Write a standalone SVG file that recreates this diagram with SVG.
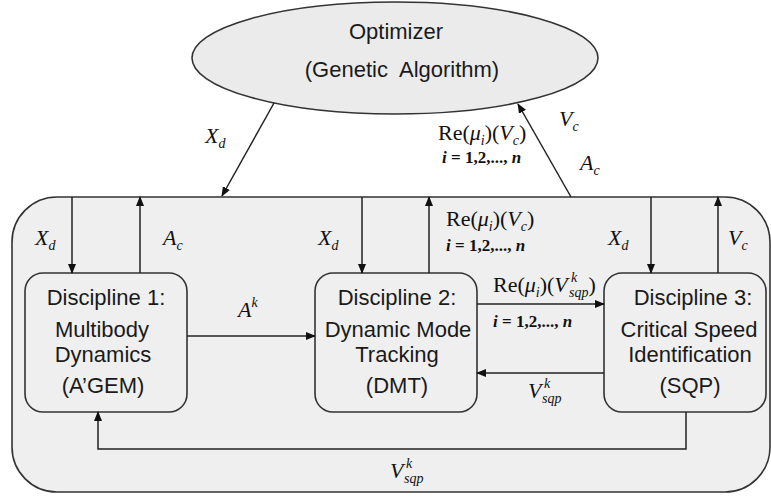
<svg xmlns="http://www.w3.org/2000/svg" width="771" height="497" viewBox="0 0 771 497">
  <style>
    .frame { fill: #efefef; stroke: #333; stroke-width: 1.6; }
    .box { fill: #efefef; stroke: #333; stroke-width: 1.6; }
    .link { fill: none; stroke: #222; stroke-width: 1.5; }
    .lbl { font-family: "Liberation Sans", Arial, sans-serif; font-size: 22px; fill: #1a1a1a; text-anchor: middle; }
    .m { font-family: "Liberation Serif", "Times New Roman", serif; font-size: 22px; font-style: italic; fill: #111; }
    .up { font-style: normal; }
    .sub { font-size: 14px; }
    .idx { font-family: "Liberation Serif", "Times New Roman", serif; font-size: 17px; font-weight: bold; fill: #111; }
  </style>
  <defs>
    <marker id="arr" markerWidth="10" markerHeight="8" refX="9" refY="4" orient="auto" markerUnits="userSpaceOnUse">
      <path d="M0,0 L10,4 L0,8 Z" fill="#111"/>
    </marker>
  </defs>

  <rect width="771" height="497" fill="#ffffff"/>

  <!-- enclosing system boundary -->
  <rect id="system" class="frame" x="12" y="197" width="758" height="295" rx="45" ry="45"/>

  <g id="optimizer">
    <ellipse cx="395" cy="58" rx="203" ry="56" fill="#ebebeb" stroke="#333" stroke-width="1.6"/>
    <text class="lbl" x="396" y="39">Optimizer</text>
    <text class="lbl" x="402" y="77" xml:space="preserve">(Genetic  Algorithm)</text>
  </g>

  <g id="discipline1">
    <rect class="box" x="25" y="273" width="162" height="139" rx="18" ry="18"/>
    <text class="lbl" x="106" y="305">Discipline 1:</text>
    <text class="lbl" x="102" y="337">Multibody</text>
    <text class="lbl" x="103" y="362">Dynamics</text>
    <text class="lbl" x="103" y="393">(A’GEM)</text>
  </g>

  <g id="discipline2">
    <rect class="box" x="315" y="273" width="162" height="139" rx="18" ry="18"/>
    <text class="lbl" x="397" y="305">Discipline 2:</text>
    <text class="lbl" x="398" y="337">Dynamic Mode</text>
    <text class="lbl" x="397" y="362">Tracking</text>
    <text class="lbl" x="397" y="393">(DMT)</text>
  </g>

  <g id="discipline3">
    <rect class="box" x="604" y="273" width="162" height="139" rx="18" ry="18"/>
    <text class="lbl" x="693" y="305">Discipline 3:</text>
    <text class="lbl" x="689" y="337">Critical Speed</text>
    <text class="lbl" x="690" y="362">Identification</text>
    <text class="lbl" x="690" y="393">(SQP)</text>
  </g>

  <g id="connectors">
    <!-- optimizer <-> system -->
    <line class="link" x1="274" y1="103" x2="222" y2="196" marker-end="url(#arr)"/>
    <line class="link" x1="571" y1="197" x2="518" y2="104" marker-end="url(#arr)"/>
    <!-- boundary <-> disciplines -->
    <line class="link" x1="72" y1="197" x2="72" y2="273" marker-end="url(#arr)"/>
    <line class="link" x1="140" y1="273" x2="140" y2="197" marker-end="url(#arr)"/>
    <line class="link" x1="362" y1="197" x2="362" y2="273" marker-end="url(#arr)"/>
    <line class="link" x1="429" y1="273" x2="429" y2="197" marker-end="url(#arr)"/>
    <line class="link" x1="651" y1="197" x2="651" y2="273" marker-end="url(#arr)"/>
    <line class="link" x1="718" y1="273" x2="718" y2="197" marker-end="url(#arr)"/>
    <!-- discipline couplings -->
    <line class="link" x1="187" y1="336" x2="315" y2="336" marker-end="url(#arr)"/>
    <line class="link" x1="477" y1="304" x2="604" y2="304" marker-end="url(#arr)"/>
    <line class="link" x1="604" y1="373" x2="477" y2="373" marker-end="url(#arr)"/>
    <polyline class="link" points="686,412 686,449 98,449 98,412" marker-end="url(#arr)"/>
  </g>

  <g id="labels">
    <!-- optimizer links -->
    <text class="m" x="205" y="143">X<tspan class="sub" dy="5">d</tspan></text>
    <text class="m" x="559" y="126">V<tspan class="sub" dy="5">c</tspan></text>
    <text class="m" x="580" y="170">A<tspan class="sub" dy="5">c</tspan></text>
    <text class="m" x="438" y="140"><tspan class="up">Re(</tspan>μ<tspan class="sub" dy="5">i</tspan><tspan class="up" dy="-5">)(</tspan>V<tspan class="sub" dy="5">c</tspan><tspan class="up" dy="-5">)</tspan></text>
    <text class="idx" x="442" y="163"><tspan font-style="italic">i</tspan> = 1,2,..., <tspan font-style="italic">n</tspan></text>

    <!-- discipline 1 -->
    <text class="m" x="35" y="245">X<tspan class="sub" dy="5">d</tspan></text>
    <text class="m" x="163" y="245">A<tspan class="sub" dy="5">c</tspan></text>
    <text class="m" x="238" y="317">A<tspan class="sub" dy="-10">k</tspan></text>

    <!-- discipline 2 -->
    <text class="m" x="318" y="245">X<tspan class="sub" dy="5">d</tspan></text>
    <text class="m" x="446" y="226"><tspan class="up">Re(</tspan>μ<tspan class="sub" dy="5">i</tspan><tspan class="up" dy="-5">)(</tspan>V<tspan class="sub" dy="5">c</tspan><tspan class="up" dy="-5">)</tspan></text>
    <text class="idx" x="446" y="251"><tspan font-style="italic">i</tspan> = 1,2,..., <tspan font-style="italic">n</tspan></text>

    <!-- discipline 2 -> 3 -->
    <text class="m" x="493" y="292"><tspan class="up">Re(</tspan>μ<tspan class="sub" dy="5">i</tspan><tspan class="up" dy="-5">)(</tspan>V<tspan class="sub" x="571" dy="-10">k</tspan><tspan class="sub" x="569" dy="15">sqp</tspan><tspan class="up" dy="-5">)</tspan></text>
    <text class="idx" x="493" y="327"><tspan font-style="italic">i</tspan> = 1,2,..., <tspan font-style="italic">n</tspan></text>

    <!-- discipline 3 -> 2 -->
    <text class="m" x="528" y="398">V<tspan class="sub" x="544" dy="-10">k</tspan><tspan class="sub" x="542" dy="15">sqp</tspan></text>

    <!-- discipline 3 -->
    <text class="m" x="608" y="245">X<tspan class="sub" dy="5">d</tspan></text>
    <text class="m" x="728" y="245">V<tspan class="sub" dy="5">c</tspan></text>

    <!-- discipline 3 -> 1 -->
    <text class="m" x="390" y="478">V<tspan class="sub" x="406" dy="-10">k</tspan><tspan class="sub" x="404" dy="15">sqp</tspan></text>
  </g>
</svg>
